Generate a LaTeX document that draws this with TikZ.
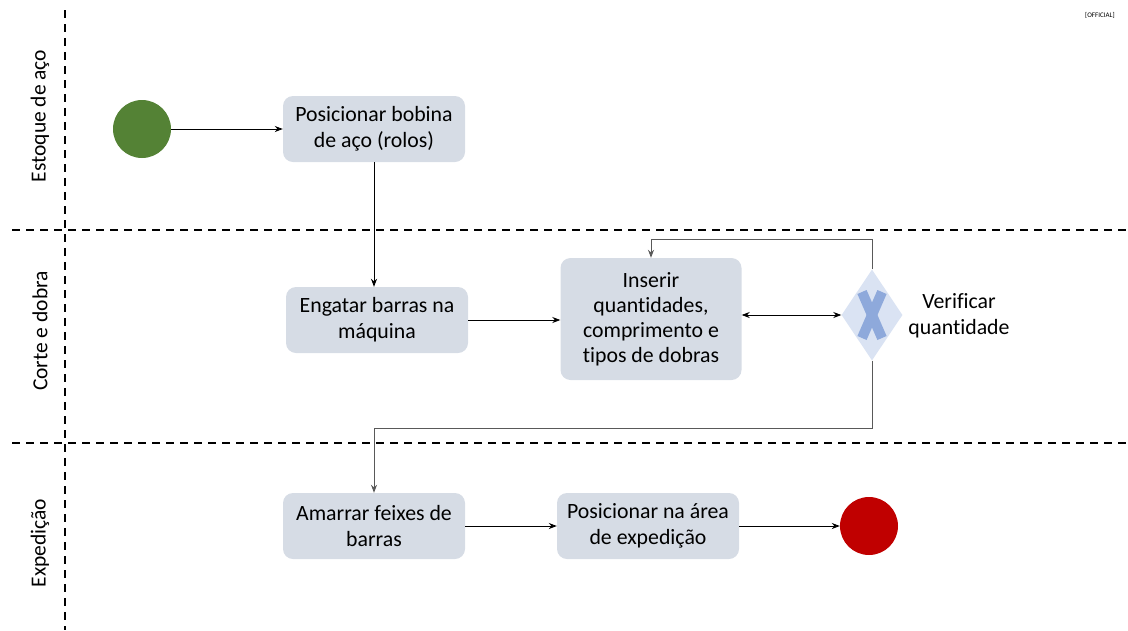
\documentclass[tikz,border=0pt]{standalone}
\usepackage{fontspec}
\setmainfont{Carlito}[Ligatures=NoCommon]
\usetikzlibrary{arrows.meta,shapes.geometric}
\definecolor{boxgray}{HTML}{D6DCE5}
\definecolor{startgreen}{HTML}{548235}
\definecolor{endred}{HTML}{C00000}
\definecolor{gwfill}{HTML}{DAE3F3}
\definecolor{gwmark}{HTML}{8EA9DB}
\begin{document}
\begin{tikzpicture}[x=1pt,y=-1pt]
\tikzstyle{task}=[fill=boxgray,rounded corners=10pt,minimum width=182pt,minimum height=66pt,align=center,inner sep=2pt,font=\fontsize{21.8}{26}\selectfont]
\tikzstyle{lane}=[rotate=90,font=\fontsize{21.5}{26}\selectfont]
\tikzstyle{lanesep}=[line width=1.5pt,dash pattern=on 8pt off 6pt]
\tikzstyle{flow}=[line width=0.8pt,-{Stealth[length=8pt,width=6pt]}]
\tikzstyle{back}=[line width=0.9pt,draw=black!65,-{Stealth[length=8pt,width=6pt]}]
\useasboundingbox (0,0) rectangle (1128,630);
\draw[lanesep] (65,10) -- (65,630);
\draw[lanesep] (12,230) -- (1128,230);
\draw[lanesep] (12,443) -- (1128,443);
\node[lane] (estoque) at (40,116) {Estoque de aço};
\node[lane] (corte) at (40,331) {Corte e dobra};
\node[lane] (expedicao) at (40,543) {Expedição};
\node[font=\fontsize{7}{8}\selectfont] (official) at (1100,15) {[OFFICIAL]};
\node[circle,fill=startgreen,minimum size=58pt,inner sep=0] (inicio) at (142,129) {};
\node[task] (bobina) at (374,129) {Posicionar bobina\\de aço (rolos)};
\node[task] (engatar) at (377,320) {Engatar barras na\\máquina};
\node[task,minimum width=181pt,minimum height=122pt,font=\fontsize{21.8}{25}\selectfont] (inserir) at (651,319) {Inserir\\quantidades,\\comprimento e\\tipos de dobras};
\node[diamond,fill=gwfill,minimum width=61pt,minimum height=91pt,inner sep=0] (verificar) at (872,315) {};
\draw[line width=10pt,gwmark] (verificar.center) ++(-10,-23) -- ++(20,46);
\draw[line width=10pt,gwmark] (verificar.center) ++(10,-23) -- ++(-20,46);
\node[align=center,font=\fontsize{21.8}{26}\selectfont] (verificartxt) at (959,316) {Verificar\\quantidade};
\node[task] (amarrar) at (374,526) {Amarrar feixes de\\barras};
\node[task] (posicionar) at (648,526) {Posicionar na área\\de expedição};
\node[circle,fill=endred,minimum size=58pt,inner sep=0] (fim) at (869,526) {};
\coordinate (volta) at (872,239);
\coordinate (desce) at (872,428);
\draw[flow] (inicio) -- (bobina);
\draw[flow] (bobina.south -| 374,0) -- (engatar.north -| 374,0);
\draw[flow] (engatar.east) -- (inserir.west |- engatar.east);
\draw[line width=0.8pt,{Stealth[length=8pt,width=6pt]}-{Stealth[length=8pt,width=6pt]}] (inserir.east |- verificar.west) -- (verificar.west);
\draw[back] (verificar.north) -- (volta) -| (inserir.north);
\draw[back] (verificar.south) -- (desce) -| (amarrar.north);
\draw[flow] (amarrar) -- (posicionar);
\draw[flow] (posicionar) -- (fim);
\end{tikzpicture}
\end{document}
